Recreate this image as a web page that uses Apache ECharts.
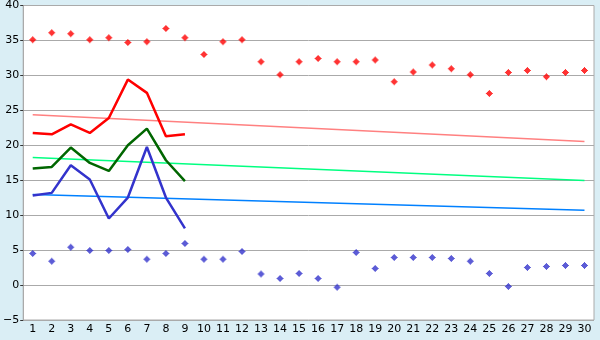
<!DOCTYPE html>
<html>
<head>
<meta charset="utf-8">
<script src="https://cdn.jsdelivr.net/npm/echarts@6/dist/echarts.min.js"></script>
<style>html,body{margin:0;padding:0;background:#daeef5;}#c{width:600px;height:340px;}</style>
</head>
<body>
<div id="c"></div>
<script>
const categories = ['1','2','3','4','5','6','7','8','9','10','11','12','13','14','15','16','17','18','19','20','21','22','23','24','25','26','27','28','29','30'];
const yTicks = [-5, 0, 5, 10, 15, 20, 25, 30, 35, 40];
const maxPoints = [35.1,36.1,35.95,35.1,35.4,34.7,34.8,36.7,35.4,33.0,34.8,35.1,31.95,30.1,31.95,32.4,31.95,31.95,32.2,29.1,30.5,31.5,30.95,30.1,27.4,30.4,30.7,29.8,30.4,30.7];
const minPoints = [4.5,3.4,5.4,4.95,4.95,5.1,3.7,4.5,5.95,3.7,3.7,4.8,1.57,0.95,1.67,0.95,-0.33,4.67,2.38,3.95,3.95,3.95,3.8,3.4,1.67,-0.19,2.52,2.67,2.8,2.8];
const redLine = [21.76,21.57,23.0,21.76,23.9,29.4,27.5,21.3,21.57];
const greenLine = [16.67,16.9,19.67,17.47,16.33,20.0,22.38,17.86,14.86];
const blueLine = [12.81,13.19,17.14,15.1,9.52,12.52,19.76,12.52,8.1];
// trend line endpoints (first and last category)
const trendRed = [24.38, 20.53];
const trendGreen = [18.24, 14.95];
const trendBlue = [12.95, 10.71];

const marker = 'path://M3,0H4V1H5V2H6V3H7V4H6V5H5V6H4V7H3V6H2V5H1V4H0V3H1V2H2V1H3Z';
function trend(ends){ return [[0, ends[0]], [categories.length-1, ends[1]]]; }

const chart = echarts.init(document.getElementById('c'), null, {renderer:'canvas'});
chart.setOption({
  animation: false,
  backgroundColor: '#daeef5',
  grid: {left: 20, right: 6, top: 5, bottom: 20, show: true, backgroundColor: '#ffffff', borderColor: '#aaaaaa', borderWidth: 1, containLabel: false},
  xAxis: {
    type: 'category', data: categories, boundaryGap: true,
    axisLine: {lineStyle: {color: '#aaaaaa', width: 1}},
    axisTick: {alignWithLabel: true, length: 6, lineStyle: {color: '#333333'}},
    axisLabel: {color: '#000', fontFamily: 'DejaVu Sans', fontSize: 11, margin: 4, interval: 0},
    splitLine: {show: false}
  },
  yAxis: {
    type: 'value', min: yTicks[0], max: yTicks[yTicks.length-1], interval: 5,
    axisLine: {show: true, lineStyle: {color: '#aaaaaa'}},
    axisTick: {show: true, length: 3, lineStyle: {color: '#333333'}},
    axisLabel: {color: '#000', fontFamily: 'DejaVu Sans', fontSize: 11, margin: 4, formatter: v => v < 0 ? '\u2212' + Math.abs(v) : String(v)},
    splitLine: {lineStyle: {color: '#aaaaaa', width: 1}}
  },
  series: [
    {type:'line', data: trend(trendRed), symbol:'none', lineStyle:{color:'#ff8080', width:1.5}, z:2},
    {type:'line', data: trend(trendGreen), symbol:'none', lineStyle:{color:'#00ff80', width:1.5}, z:2},
    {type:'line', data: trend(trendBlue), symbol:'none', lineStyle:{color:'#0080ff', width:1.5}, z:2},
    {type:'line', data: redLine, symbol:'none', lineStyle:{color:'#ff0000', width:2.5}, z:3},
    {type:'line', data: greenLine, symbol:'none', lineStyle:{color:'#006600', width:2.5}, z:3},
    {type:'line', data: blueLine, symbol:'none', lineStyle:{color:'#3333cc', width:2.5}, z:3},
    {type:'scatter', data: maxPoints, symbol: marker, symbolSize: 7, itemStyle:{color:'#ff0000'}, z:4},
    {type:'scatter', data: minPoints, symbol: marker, symbolSize: 7, itemStyle:{color:'#3333cc'}, z:4}
  ]
});
</script>
</body>
</html>
